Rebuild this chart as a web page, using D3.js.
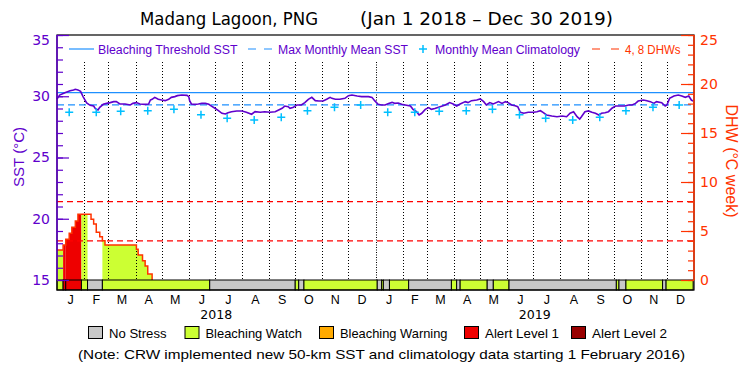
<!DOCTYPE html>
<html><head><meta charset="utf-8">
<script src="https://cdnjs.cloudflare.com/ajax/libs/d3/7.8.5/d3.min.js"></script>
<style>
html,body{margin:0;padding:0;background:#fff;}
svg{display:block;}
</style></head>
<body>
<svg id="chart" width="750" height="375"></svg>
<script>
// ---------------- data ----------------
const titleMain = "Madang Lagoon, PNG";
const titleRange = "(Jan 1 2018 \u2013 Dec 30 2019)";
const monthLabels = ["J","F","M","A","M","J","J","A","S","O","N","D"];
const yearLabels = ["2018","2019"];
const sstTicks = [15,20,25,30,35];
const dhwTicks = [0,5,10,15,20,25];

// days since Jan 1 2018
const sstDays = [0,3,9,15,19,21,24,27,30,34,38,42,44,47,49,53,57,61,65,68,72,78,84,87,91,95,101,105,107,109,112,116,120,124,128,131,135,138,143,149,151,152,154,158,162,166,170,174,177,181,185,189,193,196,200,206,212,217,223,227,233,238,244,250,254,258,261,265,267,271,275,280,284,288,292,296,300,305,309,313,315,319,324,330,334,338,344,349,357,361,364,368,372,376,380,384,387,391,395,399,405,408,412,415,418,422,426,429,433,439,445,450,454,458,462,468,471,475,481,485,489,492,496,500,506,510,514,517,521,525,528,531,535,540,546,550,554,557,561,567,573,579,584,588,592,596,599,601,605,609,613,617,621,624,628,632,636,640,645,651,655,659,663,666,672,676,680,684,687,693,697,699,702,707,712,716,720,724,727,729];
const sstValues = [29.78,30.10,30.29,30.45,30.51,30.57,30.52,30.40,29.95,29.45,29.26,29.20,28.98,28.88,29.10,29.34,29.42,29.48,29.56,29.56,29.37,29.37,29.29,29.42,29.48,29.37,29.34,29.37,29.69,29.75,29.91,29.75,29.69,29.64,29.75,29.91,29.97,30.05,30.10,30.07,29.97,29.64,29.37,29.34,29.37,29.42,29.42,29.34,29.20,29.02,28.82,28.61,28.55,28.66,28.74,28.80,28.80,28.69,28.53,28.74,28.69,28.74,28.69,28.74,28.88,29.02,29.20,29.15,29.02,29.10,29.29,29.29,29.48,29.75,29.91,29.64,29.61,29.61,29.75,29.91,29.83,29.75,29.75,29.83,30.05,30.10,30.02,29.97,29.97,29.91,29.64,29.34,29.29,29.29,29.40,29.50,29.42,29.45,29.34,29.29,29.20,28.93,28.74,28.47,28.61,28.93,29.07,28.93,29.00,29.15,29.29,29.48,29.37,29.20,29.37,29.56,29.48,29.64,29.69,29.78,29.56,29.29,29.48,29.37,29.56,29.42,29.56,29.48,29.29,29.23,29.15,28.69,28.61,28.69,28.69,28.74,28.82,28.69,28.47,28.39,28.33,28.39,28.33,28.61,28.74,28.33,28.14,28.33,28.74,28.80,28.69,28.61,28.47,28.61,28.66,28.74,29.02,29.20,29.20,29.20,29.29,29.29,29.42,29.61,29.69,29.64,29.56,29.42,29.56,29.48,29.20,29.29,29.83,30.02,30.10,30.02,29.91,30.02,29.69,29.60];

// monthly mean climatology (Jan..Dec), plotted mid-month each year
const climValues = [28.69,28.69,28.78,28.82,28.93,28.50,28.20,28.06,28.28,28.82,29.10,29.29];
const maxMonthlyMean = 29.29;
const bleachingThreshold = 30.29;

// degree heating weeks (step series)
const dhwDays = [0,7,10,14,17,21,24,39,42,45,49,52,55,91,93,98,101,104,109];
const dhwValues = [3.06,3.57,4.15,4.76,5.37,6.02,6.70,6.19,5.71,4.86,4.42,4.01,3.57,3.13,2.55,1.97,1.43,0.61,0];
const dhwLevels = [4,8];

// daily stress status segments (0 none,1 watch,2 warning,3 alert1,4 alert2)
const statusStart = [0,7,10,28,35,52,175,273,277,283,367,372,374,381,403,452,458,462,493,500,518,641,644,652,694,698];
const statusEnd   = [7,10,28,35,52,175,273,277,283,367,372,374,381,403,452,458,462,493,500,518,641,644,652,694,698,729];
const statusCode  = [1,3,3,1,0,1,0,1,0,1,0,1,0,1,0,1,0,1,0,1,0,1,0,1,0,1];
const statusNames = ["No Stress","Bleaching Watch","Bleaching Warning","Alert Level 1","Alert Level 2"];
const statusColors = ["#c8c8c8","#ccff33","#ffaa00","#ee0000","#990000"];

const legendNames = ["Bleaching Threshold SST","Max Monthly Mean SST","Monthly Mean Climatology","4, 8 DHWs"];
const noteText = "(Note: CRW implemented new 50-km SST and climatology data starting 1 February 2016)";

// ---------------- styling ----------------
const PURPLE = "#6000cc", ORANGE = "#ff3300", BLUE = "#1e90ff", CYAN = "#00bfff", RED = "#ff0000";
const FONT = "'Liberation Sans', Arial, sans-serif";
const NUMFONT = "'DejaVu Sans', sans-serif";

const L = 57, R = 694, T = 35, B = 280, BAR = 290;
const svg = d3.select("#chart");
const x = d3.scaleLinear().domain([0, 730]).range([L, R]);
const ySST = d3.scaleLinear().domain([15, 35]).range([B, T]);
const yDHW = d3.scaleLinear().domain([0, 25]).range([B, T]);
const t0 = Date.UTC(2018, 0, 1);
const dayOf = (y, m, d) => Math.round((Date.UTC(y, m, d) - t0) / 864e5);

// ---------------- title ----------------
svg.append("text").attr("x", 140).attr("y", 25).attr("font-family", NUMFONT).attr("font-size", 18)
  .attr("textLength", 178).attr("lengthAdjust", "spacingAndGlyphs").text(titleMain);
svg.append("text").attr("x", 360).attr("y", 25).attr("font-family", NUMFONT).attr("font-size", 18)
  .attr("textLength", 253).attr("lengthAdjust", "spacingAndGlyphs").text(titleRange);

// ---------------- DHW fills by status ----------------
const dhwPts = dhwDays.map((d, i) => [d, dhwValues[i]]);
const area = d3.area().curve(d3.curveStepAfter).x(d => x(d[0])).y0(yDHW(0)).y1(d => yDHW(d[1]));
const defs = svg.append("defs");
statusStart.forEach((s, i) => {
  if (statusCode[i] === 0) return;
  const id = "clip" + i;
  defs.append("clipPath").attr("id", id).append("rect")
    .attr("x", x(s)).attr("y", T).attr("width", x(statusEnd[i]) - x(s)).attr("height", B - T);
  svg.append("path").datum(dhwPts).attr("clip-path", `url(#${id})`)
    .attr("d", area).attr("fill", statusColors[statusCode[i]]);
});

// ---------------- dotted month lines ----------------
const monthStarts = [];
for (let y = 2018; y <= 2019; y++) for (let m = 0; m < 12; m++) monthStarts.push(dayOf(y, m, 1));
svg.append("g").selectAll("line").data(monthStarts.filter(d => d > 0)).join("line")
  .attr("x1", d => Math.round(x(d)) + 0.5).attr("x2", d => Math.round(x(d)) + 0.5)
  .attr("y1", 62).attr("y2", B).attr("stroke", "#000").attr("stroke-width", 1)
  .attr("stroke-dasharray", d => d === dayOf(2019, 0, 1) ? "1,1.5" : "1,2");

// ---------------- reference lines ----------------
svg.append("line").attr("x1", L).attr("x2", R).attr("y1", ySST(bleachingThreshold)).attr("y2", ySST(bleachingThreshold))
  .attr("stroke", BLUE).attr("stroke-width", 1.2);
svg.append("line").attr("x1", L).attr("x2", R).attr("y1", ySST(maxMonthlyMean)).attr("y2", ySST(maxMonthlyMean))
  .attr("stroke", BLUE).attr("stroke-width", 1.2).attr("stroke-dasharray", "7,4");
svg.append("g").selectAll("line").data(dhwLevels).join("line")
  .attr("x1", L).attr("x2", R).attr("y1", d => yDHW(d)).attr("y2", d => yDHW(d))
  .attr("stroke", RED).attr("stroke-width", 1.2).attr("stroke-dasharray", "6,4");

// ---------------- DHW outline ----------------
const dline = d3.line().curve(d3.curveStepAfter).x(d => x(d[0])).y(d => yDHW(d[1]));
svg.append("path").datum(dhwPts).attr("d", dline).attr("fill", "none").attr("stroke", ORANGE).attr("stroke-width", 1.5);

// ---------------- SST line ----------------
const sstPts = sstDays.map((d, i) => [d, sstValues[i]]);
svg.append("path").datum(sstPts)
  .attr("d", d3.line().x(d => x(d[0])).y(d => ySST(d[1])))
  .attr("fill", "none").attr("stroke", PURPLE).attr("stroke-width", 1.6);

// ---------------- climatology crosses ----------------
const climPts = [];
[2018, 2019].forEach(y => climValues.forEach((v, m) => climPts.push([dayOf(y, m, 15), v])));
svg.append("g").selectAll("path").data(climPts).join("path")
  .attr("transform", d => `translate(${x(d[0])},${ySST(d[1])})`)
  .attr("d", "M-4,0H4M0,-4V4").attr("stroke", CYAN).attr("stroke-width", 1.5).attr("fill", "none");

// ---------------- status bar ----------------
svg.append("g").selectAll("rect").data(statusStart).join("rect")
  .attr("x", (d) => x(d)).attr("y", B)
  .attr("width", (d, i) => x(statusEnd[i]) - x(d)).attr("height", BAR - B)
  .attr("fill", (d, i) => statusColors[statusCode[i]]).attr("stroke", "#000").attr("stroke-width", 1);

// ---------------- frame ----------------
svg.append("rect").attr("x", L).attr("y", T).attr("width", R - L).attr("height", BAR - T)
  .attr("fill", "none").attr("stroke", "#000").attr("stroke-width", 1.2);

// ---------------- axes ----------------
function styleAxis(g, color) {
  g.selectAll("path.domain").remove();
  g.selectAll("line").attr("stroke", color).attr("stroke-width", 1.2);
  g.selectAll("text").attr("fill", color).attr("font-family", NUMFONT).attr("font-size", 14);
  g.attr("font-family", null).attr("font-size", null);
}
const gL = svg.append("g").attr("transform", `translate(${L},0)`)
  .call(d3.axisLeft(ySST).tickValues(d3.range(15, 36, 1)).tickSize(-6).tickFormat(""));
styleAxis(gL, PURPLE);
const gL2 = svg.append("g").attr("transform", `translate(${L},0)`)
  .call(d3.axisLeft(ySST).tickValues(sstTicks).tickSize(-12).tickPadding(7).tickFormat(d3.format("d")));
styleAxis(gL2, PURPLE);
gL2.selectAll("text").filter(d => d === 35).attr("dy", "0.7em");
svg.append("line").attr("x1", L).attr("x2", L).attr("y1", T).attr("y2", B).attr("stroke", PURPLE).attr("stroke-width", 1.5);

const gR = svg.append("g").attr("transform", `translate(${R},0)`)
  .call(d3.axisRight(yDHW).tickValues(d3.range(0, 26, 1)).tickSize(-6).tickFormat(""));
styleAxis(gR, ORANGE);
const gR2 = svg.append("g").attr("transform", `translate(${R},0)`)
  .call(d3.axisRight(yDHW).tickValues(dhwTicks).tickSize(-13).tickPadding(6).tickFormat(d3.format("d")));
styleAxis(gR2, ORANGE);
gR2.selectAll("text").filter(d => d === 25).attr("dy", "0.7em");
svg.append("line").attr("x1", R).attr("x2", R).attr("y1", T).attr("y2", B).attr("stroke", ORANGE).attr("stroke-width", 1.5);

// axis titles
svg.append("text").attr("transform", "translate(18,157) rotate(-90)").attr("text-anchor", "middle")
  .attr("dominant-baseline", "central").attr("font-family", FONT).attr("font-size", 15).attr("fill", PURPLE)
  .attr("textLength", 60).attr("lengthAdjust", "spacingAndGlyphs").text("SST (\u00B0C)");
svg.append("text").attr("transform", "translate(731,161) rotate(90)").attr("text-anchor", "middle")
  .attr("dominant-baseline", "central").attr("font-family", FONT).attr("font-size", 16).attr("fill", ORANGE)
  .attr("textLength", 113).attr("lengthAdjust", "spacingAndGlyphs").text("DHW (\u00B0C week)");

// month & year labels
const monthMid = [];
for (let y = 2018; y <= 2019; y++) for (let m = 0; m < 12; m++)
  monthMid.push({ d: (dayOf(y, m, 1) + dayOf(y, m + 1, 1)) / 2, t: monthLabels[m] });
svg.append("g").selectAll("text").data(monthMid).join("text")
  .attr("x", d => x(d.d)).attr("y", 303.5).attr("text-anchor", "middle")
  .attr("font-family", FONT).attr("font-size", 12.5).attr("fill", "#000").text(d => d.t);
svg.append("g").selectAll("text").data(yearLabels).join("text")
  .attr("x", (d, i) => x((dayOf(2018 + i, 0, 1) + dayOf(2019 + i, 0, 1)) / 2)).attr("y", 318.5)
  .attr("text-anchor", "middle").attr("font-family", NUMFONT).attr("font-size", 12.5).attr("fill", "#000")
  .attr("textLength", 32).attr("lengthAdjust", "spacingAndGlyphs").text(d => d);

// ---------------- top legend ----------------
const lg = svg.append("g");
const LY = 49, LTY = 53.5;
lg.append("line").attr("x1", 69).attr("x2", 94).attr("y1", LY).attr("y2", LY).attr("stroke", BLUE).attr("stroke-width", 1.2);
lg.append("line").attr("x1", 248).attr("x2", 272).attr("y1", LY).attr("y2", LY).attr("stroke", BLUE).attr("stroke-width", 1.2).attr("stroke-dasharray", "8,8");
lg.append("path").attr("transform", `translate(423,${LY})`).attr("d", "M-4,0H4M0,-4V4").attr("stroke", CYAN).attr("stroke-width", 1.5);
lg.append("line").attr("x1", 592).attr("x2", 619).attr("y1", LY).attr("y2", LY).attr("stroke", ORANGE).attr("stroke-width", 1.2).attr("stroke-dasharray", "8,11");
const legX = [98, 278, 435, 625], legW = [139.5, 130, 145, 55.5];
legendNames.forEach((t, i) => {
  lg.append("text").attr("x", legX[i]).attr("y", LTY).attr("font-family", FONT).attr("font-size", 12.3)
    .attr("fill", i === 3 ? ORANGE : PURPLE).attr("textLength", legW[i]).attr("lengthAdjust", "spacingAndGlyphs").text(t);
});

// ---------------- bottom legend ----------------
const bx = [109, 205.5, 340, 485, 592], bw = [57.5, 96.5, 107.5, 74, 75];
statusNames.forEach((t, i) => {
  svg.append("rect").attr("x", bx[i] - 20.5).attr("y", 326.5).attr("width", 14).attr("height", 12)
    .attr("fill", statusColors[i]).attr("stroke", "#000").attr("stroke-width", 1);
  svg.append("text").attr("x", bx[i]).attr("y", 338).attr("font-family", FONT).attr("font-size", 13)
    .attr("fill", "#000").attr("textLength", bw[i]).attr("lengthAdjust", "spacingAndGlyphs").text(t);
});
svg.append("text").attr("x", 78).attr("y", 359).attr("font-family", FONT).attr("font-size", 13.5)
  .attr("fill", "#000").attr("textLength", 607).attr("lengthAdjust", "spacingAndGlyphs").text(noteText);
</script>
</body></html>
